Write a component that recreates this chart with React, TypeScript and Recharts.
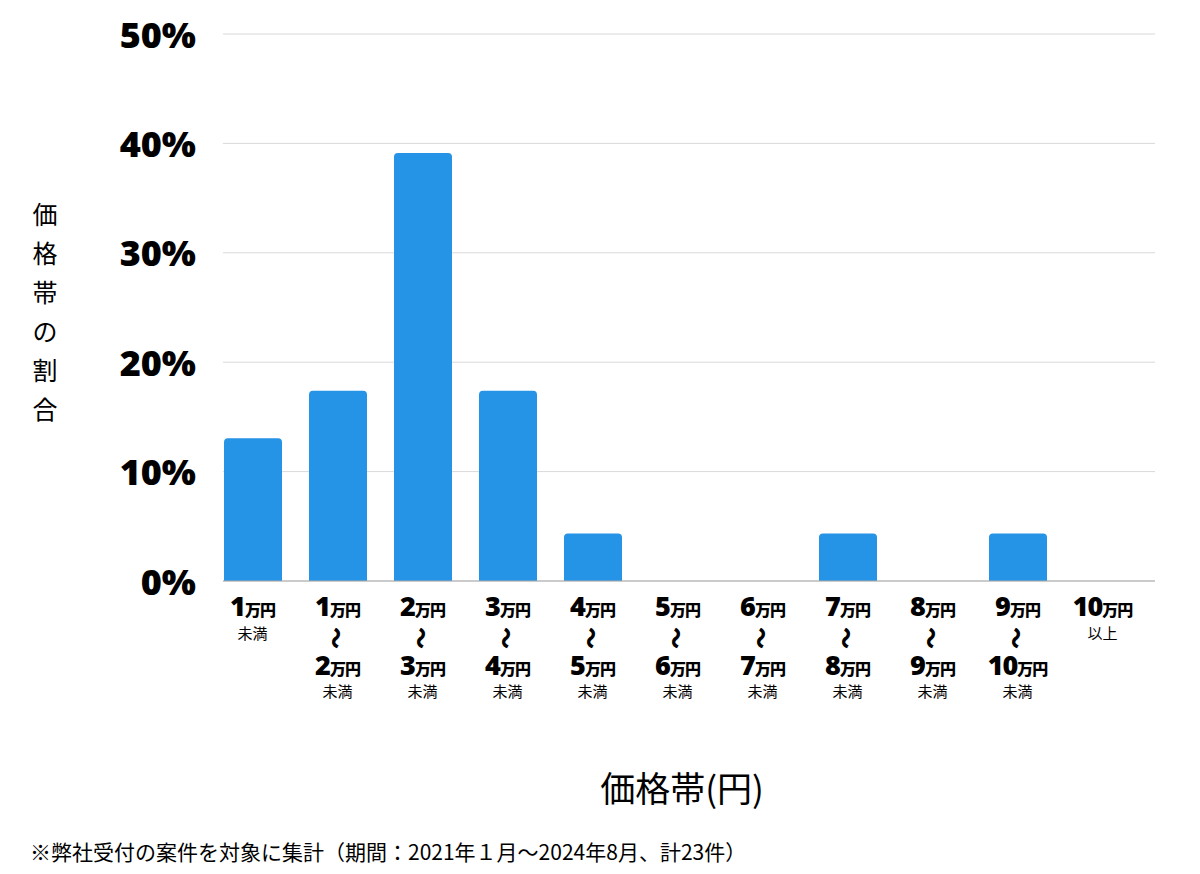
import { BarChart, Bar, XAxis, YAxis, CartesianGrid } from 'recharts';

// 価格帯ごとの件数割合（計23件）
const lowerLabels = ['1', '1', '2', '3', '4', '5', '6', '7', '8', '9', '10'];
const upperLabels = ['', '2', '3', '4', '5', '6', '7', '8', '9', '10', ''];
const suffixLabels = ['未満', '未満', '未満', '未満', '未満', '未満', '未満', '未満', '未満', '未満', '以上'];
const shares = [13.04, 17.39, 39.13, 17.39, 4.35, 0, 0, 4.35, 0, 4.35, 0];
const yTicks = [0, 10, 20, 30, 40, 50];

const data = lowerLabels.map((low, i) => ({
  key: String(i),
  low,
  high: upperLabels[i],
  suffix: suffixLabels[i],
  share: shares[i],
}));

const FONT = '"Noto Sans", "Noto Sans CJK JP", sans-serif';
const CJK = '"Noto Sans CJK JP", "Noto Sans", sans-serif';

const YTick = ({ x, y, payload }: any) => (
  <text
    x={x - 19}
    y={y}
    textAnchor="end"
    dominantBaseline="central"
    fontFamily={FONT}
    fontWeight={900}
    fontSize={36}
    fill="#000"
  >
    {payload.value}%
  </text>
);

const Amount = ({ x, y, num }: { x: number; y: number; num: string }) => (
  <text x={x} y={y} textAnchor="middle" fontFamily={FONT} fontWeight={900} fill="#000" letterSpacing={-1}>
    <tspan fontSize={27}>{num}</tspan>
    <tspan fontSize={16} fontFamily={CJK} fontWeight={900}>万円</tspan>
  </text>
);

const XTick = ({ x, y, payload }: any) => {
  const row = data[Number(payload.value)];
  const base = y;
  if (!row.high) {
    return (
      <g>
        <Amount x={x} y={base + 35} num={row.low} />
        <text x={x} y={base + 58} textAnchor="middle" fontFamily={CJK} fontSize={15} fill="#000">
          {row.suffix}
        </text>
      </g>
    );
  }
  return (
    <g>
      <Amount x={x} y={base + 35} num={row.low} />
      <text
        x={0}
        y={0}
        transform={`translate(${x}, ${base + 57}) rotate(90)`}
        textAnchor="middle"
        dominantBaseline="central"
        fontFamily={CJK}
        fontWeight={900}
        fontSize={22}
        fill="#000"
      >
        〜
      </text>
      <Amount x={x} y={base + 94} num={row.high} />
      <text x={x} y={base + 116} textAnchor="middle" fontFamily={CJK} fontSize={15} fill="#000">
        {row.suffix}
      </text>
    </g>
  );
};

const YTitle = () => {
  const chars = ['価', '格', '帯', 'の', '割', '合'];
  return (
    <text fontFamily={CJK} fontSize={25} fill="#000" textAnchor="middle">
      {chars.map((c, i) => (
        <tspan key={c} x={37} y={216 + i * 39}>
          {c}
        </tspan>
      ))}
    </text>
  );
};

export default function App() {
  return (
    <div style={{ position: 'relative', width: 1184, height: 858, background: '#fff' }}>
      <BarChart
        width={1184}
        height={720}
        data={data}
        margin={{ top: 26, right: 37, left: 0, bottom: 27 }}
      >
        <CartesianGrid vertical={false} stroke="#d9d9d9" />
        <XAxis
          dataKey="key"
          tick={<XTick />}
          tickLine={false}
          tickSize={0}
          tickMargin={0}
          axisLine={{ stroke: '#aaaaaa' }}
          padding={{ left: -13, right: 10 }}
          height={120}
          interval={0}
        />
        <YAxis
          domain={[0, 50]}
          ticks={yTicks}
          tick={<YTick />}
          tickLine={false}
          axisLine={false}
          width={215}
        />
        <Bar dataKey="share" fill="#2593e6" barSize={58} radius={[4, 4, 0, 0]} isAnimationActive={false} />
      </BarChart>
      <svg width={1184} height={858} style={{ position: 'absolute', left: 0, top: 0, pointerEvents: 'none' }}>
        <YTitle />
        <text x={674} y={778} textAnchor="middle" dominantBaseline="central" fontFamily={CJK} fontSize={35} fill="#000">
          価格帯(円)
        </text>
        <text x={22} y={843} fontFamily={CJK} fontSize={21} dominantBaseline="central" fill="#000">
          ※弊社受付の案件を対象に集計（期間：2021年１月～2024年8月、計23件）
        </text>
      </svg>
    </div>
  );
}
